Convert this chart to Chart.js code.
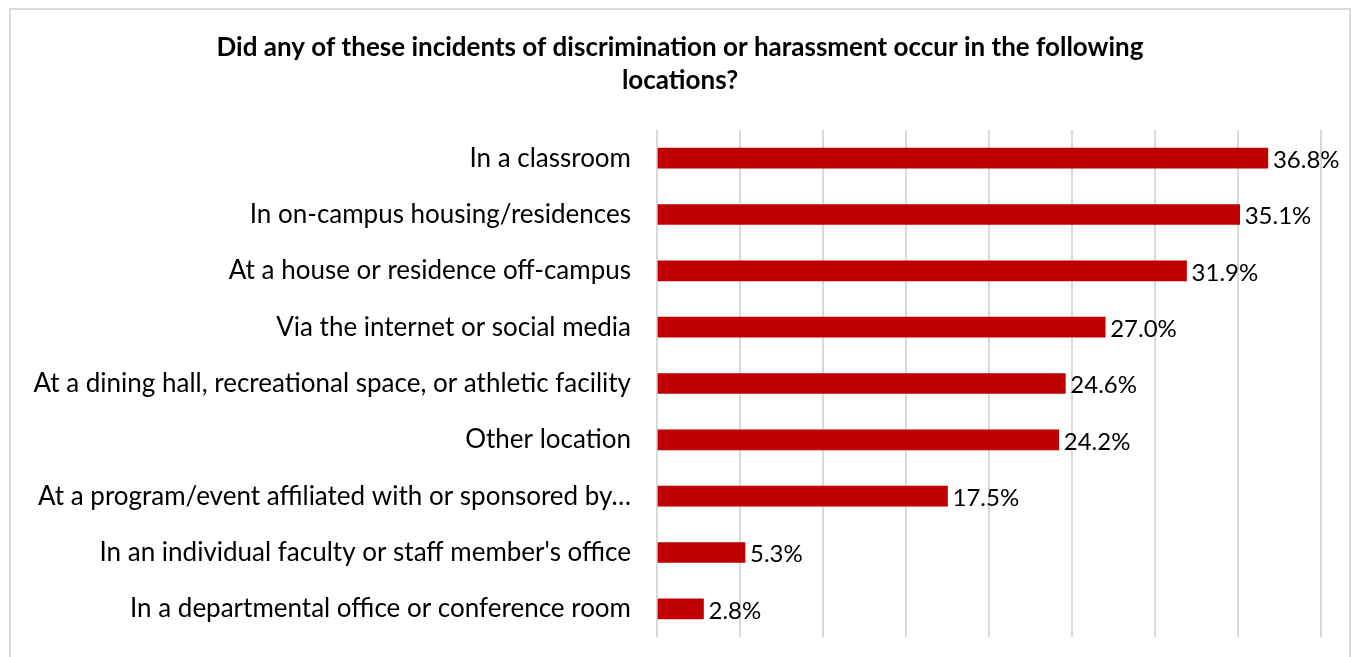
<!DOCTYPE html>
<html>
<head>
<meta charset="utf-8">
<script src="https://cdn.jsdelivr.net/npm/chart.js@4.4.1/dist/chart.umd.min.js"></script>
<style>
html,body{margin:0;padding:0;background:#fff;}
#wrap{width:1353px;height:657px;position:relative;}
</style>
</head>
<body>
<div id="wrap"><canvas id="c" width="1353" height="657"></canvas></div>
<script>
const titleLines = ["Did any of these incidents of discrimination or harassment occur in the following", "locations?"];
const categories = [
  "In a classroom",
  "In on-campus housing/residences",
  "At a house or residence off-campus",
  "Via the internet or social media",
  "At a dining hall, recreational space, or athletic facility",
  "Other location",
  "At a program/event affiliated with or sponsored by…",
  "In an individual faculty or staff member's office",
  "In a departmental office or conference room"
];
const values = [36.8, 35.1, 31.9, 27.0, 24.6, 24.2, 17.5, 5.3, 2.8];
const valueLabels = ["36.8%", "35.1%", "31.9%", "27.0%", "24.6%", "24.2%", "17.5%", "5.3%", "2.8%"];
const axisMin = 0, axisMax = 40, axisStep = 5;

const FONT = "Lato, 'Open Sans', sans-serif";

const borderPlugin = {
  id: 'outerBorder',
  beforeDraw(chart) {
    const ctx = chart.ctx;
    ctx.save();
    ctx.fillStyle = '#fff';
    ctx.fillRect(0, 0, chart.width, chart.height);
    ctx.strokeStyle = '#d9d9d9';
    ctx.lineWidth = 2;
    ctx.strokeRect(10, 9, 1340, 670);
    ctx.restore();
  }
};

const valueLabelPlugin = {
  id: 'valueLabels',
  afterDatasetsDraw(chart) {
    const ctx = chart.ctx;
    const meta = chart.getDatasetMeta(0);
    ctx.save();
    ctx.font = "24px " + FONT;
    ctx.fillStyle = '#000';
    ctx.textAlign = 'left';
    ctx.textBaseline = 'middle';
    meta.data.forEach((bar, i) => {
      ctx.fillText(valueLabels[i], bar.x + 5, bar.y + 2);
    });
    ctx.restore();
  }
};

new Chart(document.getElementById('c'), {
  type: 'bar',
  data: {
    labels: categories,
    datasets: [{
      data: values,
      backgroundColor: '#c00000',
      borderWidth: 0,
      barThickness: 20
    }]
  },
  options: {
    indexAxis: 'y',
    responsive: false,
    animation: false,
    layout: { padding: { left: 7, right: 0, top: 0, bottom: 0 } },
    plugins: {
      legend: { display: false },
      tooltip: { enabled: false },
      title: {
        display: true,
        text: titleLines,
        color: '#000',
        font: { family: FONT, size: 26, weight: 'bold', lineHeight: 1.27 },
        padding: { top: 31, bottom: 33 }
      }
    },
    scales: {
      x: {
        min: axisMin, max: axisMax,
        ticks: { display: false, stepSize: axisStep },
        grid: { color: '#d9d9d9', lineWidth: 2, drawTicks: false },
        border: { display: false },
        afterFit(s) { s.height = 20; s.paddingLeft = 0; s.paddingRight = 0; }
      },
      y: {
        ticks: { color: '#000', font: { family: FONT, size: 26 }, padding: 26, autoSkip: false },
        grid: { display: false, drawTicks: false },
        border: { display: false },
        afterFit(s) { s.width = 650; s.paddingTop = 0; s.paddingBottom = 0; }
      },
      yRight: {
        type: 'category',
        position: 'right',
        ticks: { display: false },
        grid: { display: false, drawTicks: false },
        border: { display: false },
        afterFit(s) { s.width = 32; s.paddingTop = 0; s.paddingBottom = 0; }
      }
    }
  },
  plugins: [borderPlugin, valueLabelPlugin]
});
</script>
</body>
</html>
